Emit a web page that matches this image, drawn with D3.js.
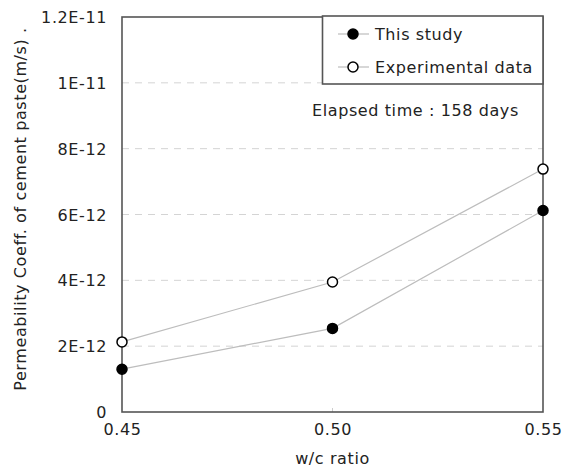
<!DOCTYPE html>
<html>
<head>
<meta charset="utf-8">
<script src="https://cdn.jsdelivr.net/npm/d3@7"></script>
<style>
  html, body { margin: 0; padding: 0; background: #fff; }
  svg text { font-family: "DejaVu Sans", Verdana, sans-serif; fill: #222; }
</style>
</head>
<body>
<svg id="chart" width="570" height="468"></svg>
<script>
// w/c ratio categories and permeability coefficients (m/s)
const wcRatios = [0.45, 0.50, 0.55];
const xTickLabels = ["0.45", "0.50", "0.55"];
const thisStudy = [1.30e-12, 2.54e-12, 6.12e-12];
const experimental = [2.13e-12, 3.95e-12, 7.38e-12];
const yTicks = [0, 2e-12, 4e-12, 6e-12, 8e-12, 1e-11, 1.2e-11];
const yTickLabels = ["0", "2E-12", "4E-12", "6E-12", "8E-12", "1E-11", "1.2E-11"];
const seriesNames = ["This study", "Experimental data"];

const FS = "16px", LS = "0.6px";
const svg = d3.select("#chart");
const margin = { left: 122, right: 27, top: 17, bottom: 56 };
const W = 570, H = 468;
const x = d3.scaleLinear().domain([0.45, 0.55]).range([margin.left, W - margin.right]);
const y = d3.scaleLinear().domain([0, 1.2e-11]).range([H - margin.bottom, margin.top]);

// dashed horizontal gridlines
svg.append("g").selectAll("line")
  .data(yTicks.slice(1, -1))
  .join("line")
  .attr("x1", x(0.45)).attr("x2", x(0.55))
  .attr("y1", d => y(d)).attr("y2", d => y(d))
  .attr("stroke", "#d4d4d4").attr("stroke-width", 1)
  .attr("stroke-dasharray", "7,6");

// small tick at the middle category
svg.append("line")
  .attr("x1", x(0.50)).attr("x2", x(0.50))
  .attr("y1", y(0)).attr("y2", y(0) - 4)
  .attr("stroke", "#ccc");

// y axis labels
const yAxis = d3.axisLeft(y).tickValues(yTicks)
  .tickFormat((d, i) => yTickLabels[i]).tickSize(0).tickPadding(15);
const gy = svg.append("g").attr("transform", `translate(${margin.left},0)`).call(yAxis);
gy.select(".domain").remove();
gy.selectAll("text").style("font-size", FS).style("letter-spacing", LS)
  .attr("font-family", null).attr("dy", "0.35em");

// x axis labels
const xAxis = d3.axisBottom(x).tickValues(wcRatios)
  .tickFormat((d, i) => xTickLabels[i]).tickSize(0).tickPadding(12);
const gx = svg.append("g").attr("transform", `translate(0,${y(0)})`).call(xAxis);
gx.select(".domain").remove();
gx.selectAll("text").style("font-size", FS).style("letter-spacing", LS).attr("font-family", null);

// plot frame
svg.append("rect")
  .attr("x", x(0.45)).attr("y", y(1.2e-11))
  .attr("width", x(0.55) - x(0.45)).attr("height", y(0) - y(1.2e-11))
  .attr("fill", "none").attr("stroke", "#555").attr("stroke-width", 1.6);

// series lines and markers
const line = d3.line().x((d, i) => x(wcRatios[i])).y(d => y(d));
const series = [
  { name: seriesNames[0], values: thisStudy, fill: "#000" },
  { name: seriesNames[1], values: experimental, fill: "#fff" }
];
series.forEach(s => {
  svg.append("path").datum(s.values).attr("d", line)
    .attr("fill", "none").attr("stroke", "#bdbdbd").attr("stroke-width", 1.2);
});
series.forEach(s => {
  svg.append("g").selectAll("circle").data(s.values).join("circle")
    .attr("cx", (d, i) => x(wcRatios[i])).attr("cy", d => y(d))
    .attr("r", 5).attr("fill", s.fill)
    .attr("stroke", "#000").attr("stroke-width", 1.5);
});

// legend
const lg = svg.append("g");
lg.append("rect").attr("x", 322.5).attr("y", 16).attr("width", 220.5).attr("height", 68)
  .attr("fill", "#fff").attr("stroke", "#555").attr("stroke-width", 1.6);
series.forEach((s, i) => {
  const cy = 34 + i * 33;
  lg.append("line").attr("x1", 338).attr("x2", 369).attr("y1", cy).attr("y2", cy)
    .attr("stroke", "#bdbdbd").attr("stroke-width", 1.2);
  lg.append("circle").attr("cx", 353).attr("cy", cy).attr("r", 5)
    .attr("fill", s.fill).attr("stroke", "#000").attr("stroke-width", 1.5);
  lg.append("text").attr("x", 375).attr("y", cy).attr("dy", "0.35em")
    .style("font-size", FS).style("letter-spacing", LS).text(s.name);
});

// annotation
svg.append("text").attr("x", 312).attr("y", 110).attr("dy", "0.35em")
  .style("font-size", FS).style("letter-spacing", LS)
  .text("Elapsed time : 158 days");

// axis titles
svg.append("text").attr("x", x(0.50)).attr("y", 458).attr("dy", "0.35em")
  .attr("text-anchor", "middle").style("font-size", FS).style("letter-spacing", LS)
  .text("w/c ratio");
svg.append("text")
  .attr("transform", `translate(20,${(28 + 390) / 2}) rotate(-90)`)
  .attr("text-anchor", "middle").attr("dy", "0.35em")
  .style("font-size", FS).style("letter-spacing", LS)
  .text("Permeability Coeff. of cement paste(m/s) .");
</script>
</body>
</html>
